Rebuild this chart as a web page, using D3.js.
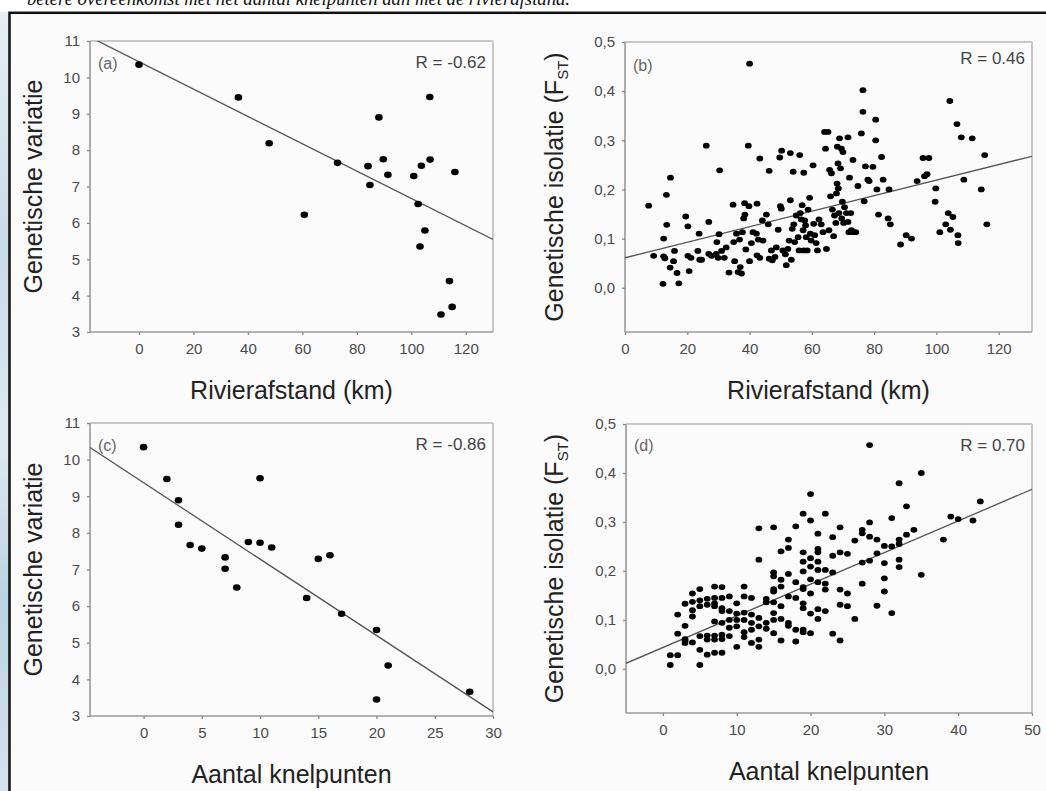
<!DOCTYPE html>
<html><head><meta charset="utf-8">
<script src="https://cdn.jsdelivr.net/npm/d3@7"></script>
<style>body{margin:0;background:#fff}svg{display:block}</style>
</head><body><svg id="c" width="1046" height="791"></svg>
<script>
// ---------- DATA ----------
const caption = "betere overeenkomst met het aantal knelpunten dan met de rivierafstand.";
const panelLabels = ["(a)", "(b)", "(c)", "(d)"];
const rLabels = ["R = -0.62", "R = 0.46", "R = -0.86", "R = 0.70"];
const xTitles = ["Rivierafstand (km)", "Rivierafstand (km)", "Aantal knelpunten", "Aantal knelpunten"];
const yTitleVar = "Genetische variatie";
const yTitleFst = "Genetische isolatie (F";
const yTitleSub = "ST";

// panel (a): river distance vs genetic variation
const aDist = [0, 36.5, 47.8, 60.7, 72.9, 84.1, 84.8, 88.1, 89.7, 91.4, 100.9, 102.5, 103.7, 103.2, 105.0, 106.8, 106.9, 116.0, 114.0, 115.0, 110.9];
const aVar  = [10.35, 9.45, 8.19, 6.22, 7.65, 7.56, 7.04, 8.90, 7.75, 7.32, 7.29, 6.52, 7.57, 5.35, 5.79, 9.46, 7.74, 7.40, 4.40, 3.69, 3.48];

// panel (c): number of bottlenecks vs genetic variation
const cKnel = [0, 2, 3, 3, 4, 5, 7, 7, 8, 9, 10, 10, 11, 14, 15, 16, 17, 20, 20, 21, 28];
const cVar  = [10.34, 9.47, 8.89, 8.22, 7.67, 7.57, 7.33, 7.02, 6.51, 7.75, 9.49, 7.73, 7.60, 6.22, 7.29, 7.39, 5.79, 5.35, 3.45, 4.38, 3.66];

// panel (b): river distance vs FST (pairwise)
const bDist = [7.6,9.2,12.4,12.4,12.2,13.3,13.4,12.8,14.6,14.5,15.6,15.9,16.7,17.3,19.5,20.2,20.2,20.6,21.2,23.4,23.8,24.0,24.6,26.1,26.9,26.9,27.8,29.3,29.5,30.2,30.4,29.9,31.0,31.9,32.5,33.4,34.7,34.9,35.2,35.8,36.3,36.8,37.0,37.4,37.7,38.1,38.4,38.5,38.8,39.6,39.8,40.0,40.0,40.6,41.1,42.2,42.4,42.4,42.8,43.3,43.3,44.1,44.3,45.4,46.0,46.3,46.3,47.0,47.3,48.2,48.6,49.2,49.7,49.9,50.2,50.3,50.7,51.5,51.8,52.3,52.7,53.1,53.1,53.4,53.7,54.0,54.2,54.5,55.0,55.6,55.9,56.1,56.3,56.6,56.9,57.2,57.4,57.4,57.7,58.0,58.2,58.5,58.8,59.3,59.5,59.8,60.4,60.6,60.9,61.4,61.8,62.3,63.0,63.6,64.1,64.4,64.7,65.2,65.5,65.7,66.0,66.3,66.6,67.0,67.3,67.7,67.9,68.1,68.2,68.4,68.5,68.7,68.9,69.2,69.5,69.6,69.8,70.0,70.2,70.5,71.1,71.6,71.6,71.9,72.1,72.5,72.7,73.2,73.4,74.1,74.8,75.9,76.4,76.4,76.8,77.2,78.0,78.4,79.6,80.5,80.5,80.9,81.4,82.4,82.9,84.5,84.8,85.2,88.5,90.3,92.0,93.8,95.7,96.2,97.0,97.6,99.8,99.6,101.1,103.0,103.8,104.3,104.5,105.3,106.6,106.9,107.0,108.0,108.8,111.5,114.4,115.5,116.2];
const bFst  = [0.167,0.065,0.064,0.100,0.008,0.189,0.128,0.060,0.224,0.041,0.054,0.075,0.030,0.009,0.145,0.125,0.065,0.034,0.061,0.075,0.110,0.057,0.057,0.289,0.134,0.069,0.065,0.069,0.093,0.109,0.239,0.061,0.075,0.061,0.082,0.031,0.169,0.093,0.054,0.110,0.032,0.098,0.042,0.029,0.113,0.141,0.172,0.149,0.078,0.289,0.166,0.456,0.054,0.091,0.113,0.110,0.171,0.066,0.098,0.263,0.061,0.137,0.096,0.149,0.129,0.238,0.059,0.076,0.056,0.063,0.082,0.118,0.265,0.166,0.161,0.279,0.076,0.068,0.046,0.079,0.096,0.274,0.178,0.057,0.120,0.236,0.129,0.093,0.147,0.103,0.076,0.270,0.152,0.139,0.168,0.117,0.234,0.076,0.137,0.127,0.103,0.076,0.159,0.183,0.110,0.096,0.249,0.130,0.107,0.091,0.076,0.139,0.129,0.113,0.317,0.283,0.079,0.317,0.117,0.240,0.186,0.233,0.159,0.105,0.147,0.132,0.192,0.212,0.287,0.253,0.202,0.152,0.304,0.243,0.283,0.141,0.175,0.276,0.132,0.164,0.152,0.306,0.134,0.113,0.224,0.152,0.117,0.260,0.113,0.113,0.207,0.314,0.402,0.358,0.176,0.247,0.220,0.217,0.246,0.342,0.300,0.200,0.149,0.266,0.220,0.141,0.200,0.129,0.088,0.107,0.100,0.217,0.264,0.227,0.231,0.264,0.202,0.175,0.113,0.129,0.152,0.380,0.118,0.144,0.333,0.107,0.091,0.306,0.220,0.304,0.200,0.270,0.129];

// panel (d): number of bottlenecks vs FST (pairwise)
const dKnel = [1,1,2,2,2,3,3,3,3,3,4,4,4,4,4,5,5,5,5,5,5,6,6,6,6,6,7,7,7,7,7,7,7,7,8,8,8,8,8,8,8,8,9,9,9,9,9,10,10,10,10,10,11,11,11,11,11,11,12,12,12,12,12,13,13,13,13,13,13,14,14,14,14,15,15,15,15,15,15,15,15,15,16,16,16,16,16,16,17,17,17,17,17,17,18,18,18,18,18,19,19,19,19,19,19,19,19,19,19,20,20,20,20,20,20,20,20,21,21,21,21,21,21,21,21,22,22,22,22,22,23,23,23,23,24,24,24,24,24,25,25,25,26,26,27,27,27,27,28,28,28,28,29,29,29,30,30,30,30,31,31,31,32,32,32,32,32,33,33,34,35,35,38,39,40,42,43];
const dFst  = [0.008,0.028,0.028,0.111,0.072,0.088,0.133,0.061,0.053,0.058,0.154,0.137,0.107,0.054,0.120,0.163,0.140,0.128,0.067,0.039,0.008,0.143,0.131,0.068,0.060,0.029,0.168,0.145,0.134,0.128,0.097,0.068,0.060,0.033,0.167,0.145,0.124,0.094,0.070,0.061,0.033,0.118,0.148,0.118,0.100,0.084,0.067,0.134,0.113,0.100,0.087,0.045,0.168,0.115,0.100,0.075,0.065,0.148,0.145,0.111,0.080,0.053,0.094,0.287,0.223,0.104,0.087,0.060,0.045,0.143,0.082,0.094,0.136,0.289,0.197,0.189,0.163,0.158,0.136,0.114,0.100,0.073,0.240,0.182,0.168,0.128,0.102,0.058,0.264,0.247,0.194,0.148,0.094,0.088,0.291,0.177,0.145,0.080,0.056,0.317,0.238,0.219,0.199,0.167,0.163,0.134,0.124,0.080,0.075,0.357,0.303,0.226,0.209,0.183,0.154,0.113,0.073,0.276,0.245,0.238,0.219,0.202,0.177,0.122,0.102,0.317,0.202,0.174,0.162,0.118,0.269,0.231,0.197,0.072,0.289,0.238,0.162,0.131,0.058,0.235,0.154,0.128,0.262,0.102,0.284,0.277,0.217,0.174,0.457,0.299,0.270,0.221,0.264,0.236,0.129,0.251,0.216,0.185,0.158,0.308,0.250,0.114,0.379,0.264,0.255,0.223,0.208,0.332,0.274,0.284,0.400,0.192,0.264,0.311,0.306,0.303,0.342];

// tick values
const xTicksA = [0, 20, 40, 60, 80, 100, 120];
const xTicksB = [0, 20, 40, 60, 80, 100, 120];
const xTicksC = [0, 5, 10, 15, 20, 25, 30];
const xTicksD = [0, 10, 20, 30, 40, 50];
const yTicksVar = [3, 4, 5, 6, 7, 8, 9, 10, 11];
const yTicksFst = [0.0, 0.1, 0.2, 0.3, 0.4, 0.5];

// regression lines (intercept, slope)
const fitIntercept = [10.43, 0.061, 9.37, 0.0437];
const fitSlope     = [-0.0376, 0.00158, -0.2086, 0.00646];

// ---------- DRAWING ----------
const svg = d3.select("#c");
const FONT = "'Liberation Sans', Arial, Helvetica, sans-serif";

// left water-like strip
const defs = svg.append("defs");
const g1 = defs.append("linearGradient").attr("id", "water").attr("x1", 0).attr("y1", 0).attr("x2", 0).attr("y2", 1);
[["0%", "#e6eef3"], ["30%", "#c9dbe6"], ["55%", "#dfe9f0"], ["75%", "#bcd2e0"], ["100%", "#d4e3ec"]]
  .forEach(s => g1.append("stop").attr("offset", s[0]).attr("stop-color", s[1]));
svg.append("rect").attr("x", 0).attr("y", 12).attr("width", 10).attr("height", 779).attr("fill", "url(#water)");

// frame
svg.append("rect").attr("x", 9.5).attr("y", 12.8).attr("width", 1050).attr("height", 800)
  .attr("fill", "#fbfbfb").attr("stroke", "#111").attr("stroke-width", 2.5);

// caption (cut off at top, as in the source page)
svg.append("text").attr("x", 27).attr("y", 4.5)
  .attr("font-family", "'Liberation Serif', 'Times New Roman', serif").attr("font-style", "italic")
  .attr("font-size", 18).attr("fill", "#111")
  .attr("textLength", 543).attr("lengthAdjust", "spacingAndGlyphs")
  .text(caption);

const panels = [
  { xs: aDist, ys: aVar, xDom: [-18, 130], yDom: [3, 11], xT: xTicksA, yT: yTicksVar, box: [90, 41, 493, 332], fst: false, r: 3.3, lblDy: 22, rDy: 21, ytx: 42 },
  { xs: bDist, ys: bFst, xDom: [0, 130.7], yDom: [-0.09, 0.5], xT: xTicksB, yT: yTicksFst, box: [625, 42, 1032, 332], fst: true, r: 2.9, lblDy: 23, rDy: 15.5, ytx: 563 },
  { xs: cKnel, ys: cVar, xDom: [-4.6, 30], yDom: [3, 11], xT: xTicksC, yT: yTicksVar, box: [90, 423, 493, 716], fst: false, r: 3.3, lblDy: 22, rDy: 21, ytx: 42 },
  { xs: dKnel, ys: dFst, xDom: [-5, 50], yDom: [-0.09, 0.5], xT: xTicksD, yT: yTicksFst, box: [626, 424, 1032, 713], fst: true, r: 2.9, lblDy: 21, rDy: 21, ytx: 563 }
];

const fstFmt = v => d3.format(".1f")(v).replace(".", ",");

panels.forEach((p, i) => {
  const [x0, y0, x1, y1] = p.box;
  const xs = d3.scaleLinear().domain(p.xDom).range([x0, x1]);
  const ys = d3.scaleLinear().domain(p.yDom).range([y1, y0]);
  const g = svg.append("g");

  // plot box (top/right lighter)
  g.append("line").attr("x1", x0).attr("x2", x1).attr("y1", y0).attr("y2", y0).attr("stroke", "#c8c8c8").attr("stroke-width", 2);
  g.append("line").attr("x1", x1).attr("x2", x1).attr("y1", y0).attr("y2", y1).attr("stroke", "#c8c8c8").attr("stroke-width", 2);

  // axes
  const xAxis = d3.axisBottom(xs).tickValues(p.xT).tickSize(3).tickSizeOuter(0).tickPadding(8);
  const yAxis = d3.axisLeft(ys).tickValues(p.yT).tickSize(3).tickSizeOuter(0).tickPadding(7);
  if (p.fst) yAxis.tickFormat(fstFmt); else yAxis.tickFormat(d3.format("d"));
  xAxis.tickFormat(d3.format("d"));
  const gx = g.append("g").attr("transform", `translate(0,${y1})`).call(xAxis);
  const gy = g.append("g").attr("transform", `translate(${x0},0)`).call(yAxis);
  [gx, gy].forEach(a => {
    a.select(".domain").attr("stroke", "#9a9a9a").attr("stroke-width", 1.6);
    a.selectAll(".tick line").attr("stroke", "#8a8a8a").attr("stroke-width", 1.3);
    a.selectAll(".tick text").attr("fill", "#4a4a4a").attr("font-size", 15).attr("font-family", FONT);
  });
  gx.select(".domain").attr("d", `M${x0},0H${x1}`);
  gy.select(".domain").attr("d", `M0,${y0}V${y1}`);

  // clip
  const cid = "clip" + i;
  defs.append("clipPath").attr("id", cid).append("rect").attr("x", x0).attr("y", y0).attr("width", x1 - x0).attr("height", y1 - y0);

  // regression line
  const fitPts = p.xDom.map(v => [v, fitIntercept[i] + fitSlope[i] * v]);
  g.append("path").attr("clip-path", `url(#${cid})`)
    .attr("d", d3.line().x(d => xs(d[0])).y(d => ys(d[1]))(fitPts))
    .attr("fill", "none").attr("stroke", "#555").attr("stroke-width", 1.3);

  // points
  g.append("g").selectAll("ellipse").data(p.xs.map((v, k) => [v, p.ys[k]])).join("ellipse")
    .attr("cx", d => xs(d[0])).attr("cy", d => ys(d[1]))
    .attr("rx", p.r + 0.5).attr("ry", p.r).attr("fill", "#000");

  // panel label and R
  g.append("text").attr("x", x0 + 8).attr("y", y0 + p.lblDy + 6)
    .attr("font-family", FONT).attr("font-size", 16).attr("fill", "#666").text(panelLabels[i]);
  g.append("text").attr("x", x1 - 7).attr("y", y0 + p.rDy + 6).attr("text-anchor", "end")
    .attr("font-family", FONT).attr("font-size", 17).attr("fill", "#444").text(rLabels[i]);

  // x title
  g.append("text").attr("x", (x0 + x1) / 2).attr("y", y1 + 67).attr("text-anchor", "middle")
    .attr("font-family", FONT).attr("font-size", 25).attr("fill", "#222").text(xTitles[i]);

  // y title
  const ty = (y0 + y1) / 2;
  const yt = g.append("text").attr("transform", `translate(${p.ytx},${ty}) rotate(-90)`).attr("text-anchor", "middle")
    .attr("font-family", FONT).attr("font-size", 25).attr("fill", "#222");
  if (p.fst) {
    yt.append("tspan").text(yTitleFst);
    yt.append("tspan").attr("font-size", 15).attr("dy", 5).text(yTitleSub);
    yt.append("tspan").attr("dy", -5).text(")");
  } else {
    yt.text(yTitleVar);
  }
});
</script></body></html>
